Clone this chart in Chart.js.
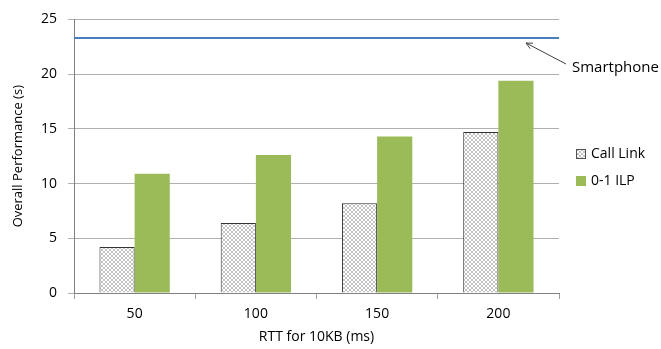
<!DOCTYPE html>
<html><head><meta charset="utf-8">
<script src="https://cdn.jsdelivr.net/npm/chart.js@4/dist/chart.umd.min.js"></script>
<style>html,body{margin:0;padding:0;background:#fff}#wrap{width:661px;height:349px}</style>
</head><body><div id="wrap"><canvas id="c" width="661" height="349"></canvas></div>
<script>
const categories = ["50", "100", "150", "200"];
const callLink = [4.2, 6.4, 8.2, 14.7];
const ilp = [10.9, 12.6, 14.3, 19.4];
const smartphone = 23.3;
const yTicks = [0, 5, 10, 15, 20, 25];
const seriesNames = ["Call Link", "0-1 ILP", "Smartphone"];
const xTitle = "RTT for 10KB (ms)";
const yTitle = "Overall Performance (s)";

function hatch() {
  const p = document.createElement('canvas');
  p.width = 4; p.height = 4;
  const g = p.getContext('2d');
  g.fillStyle = '#ffffff'; g.fillRect(0,0,4,4);
  g.strokeStyle = '#a8a8a8'; g.lineWidth = 0.7;
  g.beginPath();
  g.moveTo(-1,-1); g.lineTo(5,5);
  g.moveTo(5,-1); g.lineTo(-1,5);
  g.moveTo(-2,2); g.lineTo(2,6);
  g.moveTo(2,-2); g.lineTo(6,2);
  g.moveTo(2,-2); g.lineTo(-2,2);
  g.moveTo(6,2); g.lineTo(2,6);
  g.stroke();
  return document.getElementById('c').getContext('2d').createPattern(p, 'repeat');
}
const hatchPat = hatch();
const FONT = "'Open Sans', 'Noto Sans', sans-serif";

const extras = {
  id: 'extras',
  afterDatasetsDraw(chart) {
    const ctx = chart.ctx;
    const ys = chart.scales.y;
    const ca = chart.chartArea;
    const ly = ys.getPixelForValue(smartphone);
    ctx.save();
    // smartphone line
    ctx.strokeStyle = '#4a7ebb'; ctx.lineWidth = 2;
    ctx.beginPath(); ctx.moveTo(ca.left, ly); ctx.lineTo(ca.right, ly); ctx.stroke();
    // arrow annotation
    ctx.strokeStyle = '#404040'; ctx.lineWidth = 1;
    const tx = 526, ty = ly + 5, sx = 566, sy = ly + 26;
    ctx.beginPath(); ctx.moveTo(sx, sy); ctx.lineTo(tx, ty); ctx.stroke();
    const ang = Math.atan2(ty - sy, tx - sx);
    ctx.beginPath();
    ctx.moveTo(tx, ty);
    ctx.lineTo(tx - 7*Math.cos(ang - 0.45), ty - 7*Math.sin(ang - 0.45));
    ctx.moveTo(tx, ty);
    ctx.lineTo(tx - 7*Math.cos(ang + 0.45), ty - 7*Math.sin(ang + 0.45));
    ctx.stroke();
    ctx.fillStyle = '#000'; ctx.font = "15px " + FONT;
    ctx.textBaseline = 'middle'; ctx.textAlign = 'left';
    ctx.fillText(seriesNames[2], 572, ly + 30);
    // legend
    ctx.font = "14px " + FONT;
    const items = [
      {label: seriesNames[0], fill: hatchPat, stroke: '#505050', y: 154},
      {label: seriesNames[1], fill: '#9bbb59', stroke: null, y: 181}
    ];
    items.forEach(it => {
      ctx.fillStyle = it.fill;
      ctx.fillRect(576, it.y - 5, 10, 10);
      if (it.stroke) { ctx.strokeStyle = it.stroke; ctx.lineWidth = 1; ctx.strokeRect(576.5, it.y - 4.5, 9, 9); }
      ctx.fillStyle = '#000';
      ctx.fillText(it.label, 591, it.y);
    });
    ctx.restore();
  }
};

new Chart(document.getElementById('c'), {
  type: 'bar',
  data: {
    labels: categories,
    datasets: [
      {label: seriesNames[0], data: callLink, backgroundColor: hatchPat, borderColor: '#333333', borderWidth: 1, categoryPercentage: 0.58, barPercentage: 1.0},
      {label: seriesNames[1], data: ilp, backgroundColor: '#9bbb59', borderWidth: 0, categoryPercentage: 0.58, barPercentage: 1.0}
    ]
  },
  options: {
    responsive: false, animation: false,
    layout: {padding: {left: 0, top: 19, right: 102, bottom: 0}},
    plugins: {legend: {display: false}, tooltip: {enabled: false}},
    scales: {
      x: {
        grid: {display: true, drawOnChartArea: false, offset: true, color: '#a0a0a0', tickLength: 6},
        border: {color: '#808080'},
        ticks: {color: '#000', font: {family: FONT, size: 14}, padding: 7},
        title: {display: true, text: xTitle, color: '#000', font: {family: FONT, size: 14}, padding: {top: 7}},
        afterFit(s) { s.height = 56; }
      },
      y: {
        min: 0, max: 25,
        afterBuildTicks(s) { s.ticks = yTicks.map(v => ({value: v})); },
        grid: {color: '#b0b0b0', tickLength: 6},
        border: {color: '#808080'},
        ticks: {color: '#000', font: {family: FONT, size: 14}, padding: 11},
        title: {display: true, text: yTitle, color: '#000', font: {family: FONT, size: 13}, padding: {top: 10, bottom: 4}},
        afterFit(s) { s.width = 74; }
      }
    }
  },
  plugins: [extras]
});
</script>
</body></html>
